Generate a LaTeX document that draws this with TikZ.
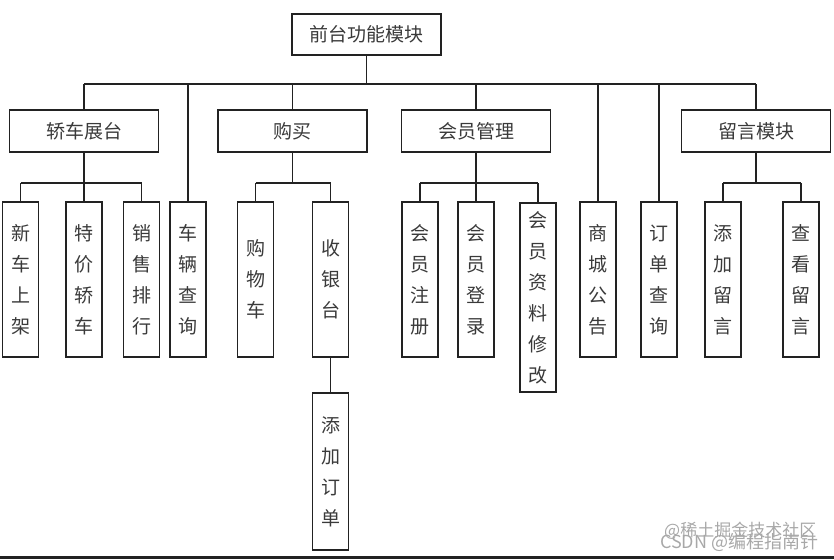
\documentclass[tikz,border=0pt]{standalone}
\usepackage{fontspec}
\setmainfont{Noto Sans CJK SC}
\definecolor{ink}{HTML}{222222}
\definecolor{txt}{HTML}{3A3A3A}
\definecolor{wm}{HTML}{A8A8A8}
\begin{document}
\begin{tikzpicture}[x=1pt, y=-1pt, line width=1.4pt, draw=ink,
    every node/.style={draw=ink, line width=1.4pt, inner sep=0pt, text=txt},
    hbox/.style={minimum width=149pt, minimum height=42pt, font=\fontsize{19}{19}\selectfont},
    vbox/.style={minimum width=36pt, minimum height=155pt, align=center, font=\fontsize{19}{31}\selectfont}]
    \useasboundingbox (0,0) rectangle (834,559);
    \fill[ink] (0,556) rectangle (834,559);
    % top
    \node[hbox, minimum height=41pt] (root) at (366.5,34.5) {前台功能模块};
    \coordinate (bus) at (0,84);
    \coordinate (sub) at (0,183);
    % second level
    \node[hbox] (jc) at (84,131) {轿车展台};
    \node[hbox] (gm) at (292.5,131) {购买};
    \node[hbox] (hy) at (476,131) {会员管理};
    \node[hbox] (ly) at (756,131) {留言模块};
    % third level
    \node[vbox] (xc) at (20.5,279.5) {新\\车\\上\\架};
    \node[vbox] (tj) at (84,279.5) {特\\价\\轿\\车};
    \node[vbox] (xs) at (141.5,279.5) {销\\售\\排\\行};
    \node[vbox] (cl) at (188,279.5) {车\\辆\\查\\询};
    \node[vbox] (gw) at (255.5,279.5) {购\\物\\车};
    \node[vbox] (sy) at (330.5,279.5) {收\\银\\台};
    \node[vbox] (zc) at (420,279.5) {会\\员\\注\\册};
    \node[vbox] (dl) at (476,279.5) {会\\员\\登\\录};
    \node[vbox, minimum height=189pt] (xg) at (538,297.5) {会\\员\\资\\料\\修\\改};
    \node[vbox] (gg) at (598,279.5) {商\\城\\公\\告};
    \node[vbox] (dd) at (659,279.5) {订\\单\\查\\询};
    \node[vbox] (tl) at (723,279.5) {添\\加\\留\\言};
    \node[vbox] (ck) at (801,279.5) {查\\看\\留\\言};
    \node[vbox, minimum height=157pt] (tdd) at (330.5,471.5) {添\\加\\订\\单};
    % connectors
    \draw (root.south) -- (root.south |- bus);
    \draw (jc.north |- bus) -- (ly.north |- bus);
    \foreach \n in {jc, cl, gm, hy, gg, dd, ly}
        \draw (\n.north) -- (\n.north |- bus);
    \draw (xc.north |- sub) -- (xs.north |- sub);
    \draw (gw.north |- sub) -- (sy.north |- sub);
    \draw (zc.north |- sub) -- (xg.north |- sub);
    \draw (tl.north |- sub) -- (ck.north |- sub);
    \foreach \p in {jc, gm, hy, ly}
        \draw (\p.south) -- (\p.south |- sub);
    \foreach \n in {xc, tj, xs, gw, sy, zc, dl, xg, tl, ck}
        \draw (\n.north) -- (\n.north |- sub);
    \draw (sy.south) -- (tdd.north);
    % watermark
    \node[draw=none, text=wm, font=\fontsize{17}{17}\selectfont, anchor=east] (wm1) at (817,531) {@稀土掘金技术社区};
    \node[draw=none, text=wm, font=\fontsize{18}{18}\selectfont, anchor=east] (wm2) at (819,542) {CSDN @编程指南针};
\end{tikzpicture}
\end{document}
